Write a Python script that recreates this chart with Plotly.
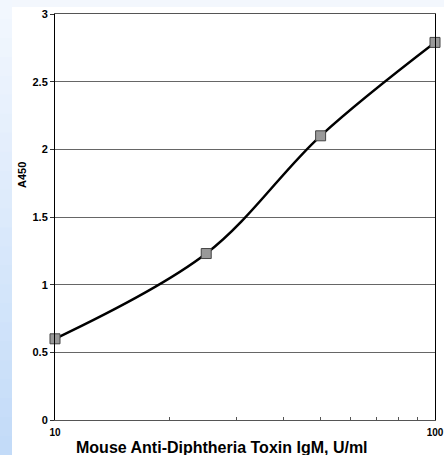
import plotly.graph_objects as go

# Data
conc = [10, 25, 50, 100]          # Mouse Anti-Diphtheria Toxin IgM, U/ml
a450 = [0.60, 1.23, 2.10, 2.79]   # A450
x_tick_vals = [10, 20, 30, 40, 50, 60, 70, 80, 90, 100]
x_tick_text = ["10", "", "", "", "", "", "", "", "", "100"]
y_tick_vals = [0, 0.5, 1, 1.5, 2, 2.5, 3]
y_tick_text = ["0", "0.5", "1", "1.5", "2", "2.5", "3"]

W, H = 444, 455
L, R, T, B = 55, 9, 14, 35
PW, PH = W - L - R, H - T - B


def px(p):
    return (p - L) / PW


def py(q):
    return (H - B - q) / PH


shapes = []
# white page area
shapes.append(dict(type="rect", xref="paper", yref="paper", x0=px(12), x1=px(W + 2),
                   y0=py(H + 2), y1=py(7), fillcolor="white", line=dict(width=0), layer="below"))
# left gradient strip
n = 24
top_c = (0xf2, 0xf7, 0xfe)
bot_c = (0xc3, 0xdb, 0xf8)
for i in range(n):
    t = i / (n - 1)
    c = tuple(int(round(top_c[k] + (bot_c[k] - top_c[k]) * t)) for k in range(3))
    q0 = H * i / n
    q1 = H * (i + 1) / n + 1
    shapes.append(dict(type="rect", xref="paper", yref="paper", x0=px(-1), x1=px(12),
                       y0=py(q1), y1=py(q0), fillcolor="rgb(%d,%d,%d)" % c,
                       line=dict(width=0), layer="below"))

fig = go.Figure()
fig.add_trace(go.Scatter(
    x=conc, y=a450, mode="lines+markers",
    line=dict(color="black", width=2.5, shape="spline", smoothing=1.0),
    marker=dict(symbol="square", size=10, color="#999999", line=dict(color="#444444", width=1)),
    showlegend=False, cliponaxis=False,
))

font = "Arial, Liberation Sans, sans-serif"
fig.update_layout(
    width=W, height=H,
    margin=dict(l=L, r=R, t=T, b=B, autoexpand=False),
    paper_bgcolor="#f3f7fd",
    plot_bgcolor="rgba(0,0,0,0)",
    shapes=shapes,
    xaxis=dict(type="log", range=[1, 2], tickvals=x_tick_vals, ticktext=x_tick_text,
               ticks="inside", ticklen=3, tickcolor="#555555", showgrid=False,
               showline=True, linecolor="#555555", linewidth=1, mirror=True,
               tickfont=dict(family=font, size=10, color="black", weight="bold"),
               ticklabelstandoff=3,
               zeroline=False, automargin=False),
    yaxis=dict(range=[0, 3], tickvals=y_tick_vals, ticktext=y_tick_text,
               ticks="outside", ticklen=4, tickcolor="#333333",
               showgrid=True, gridcolor="#666666", gridwidth=1,
               showline=True, linecolor="black", linewidth=1, mirror=True,
               tickfont=dict(family=font, size=11, color="black", weight="bold"),
               zeroline=False, automargin=False),
    annotations=[
        dict(text="<b>Mouse Anti-Diphtheria Toxin IgM, U/ml</b>", xref="paper", yref="paper",
             x=px(222), y=py(447), xanchor="center", yanchor="middle", showarrow=False,
             font=dict(family=font, size=16, color="black")),
        dict(text="<b>A450</b>", xref="paper", yref="paper", textangle=-90,
             x=px(22), y=py(175), xanchor="center", yanchor="middle", showarrow=False,
             font=dict(family=font, size=11, color="black")),
    ],
)

fig.write_html("out.html", config={"displayModeBar": False},
               post_script="document.body.style.margin='0';document.body.style.overflow='hidden';")
